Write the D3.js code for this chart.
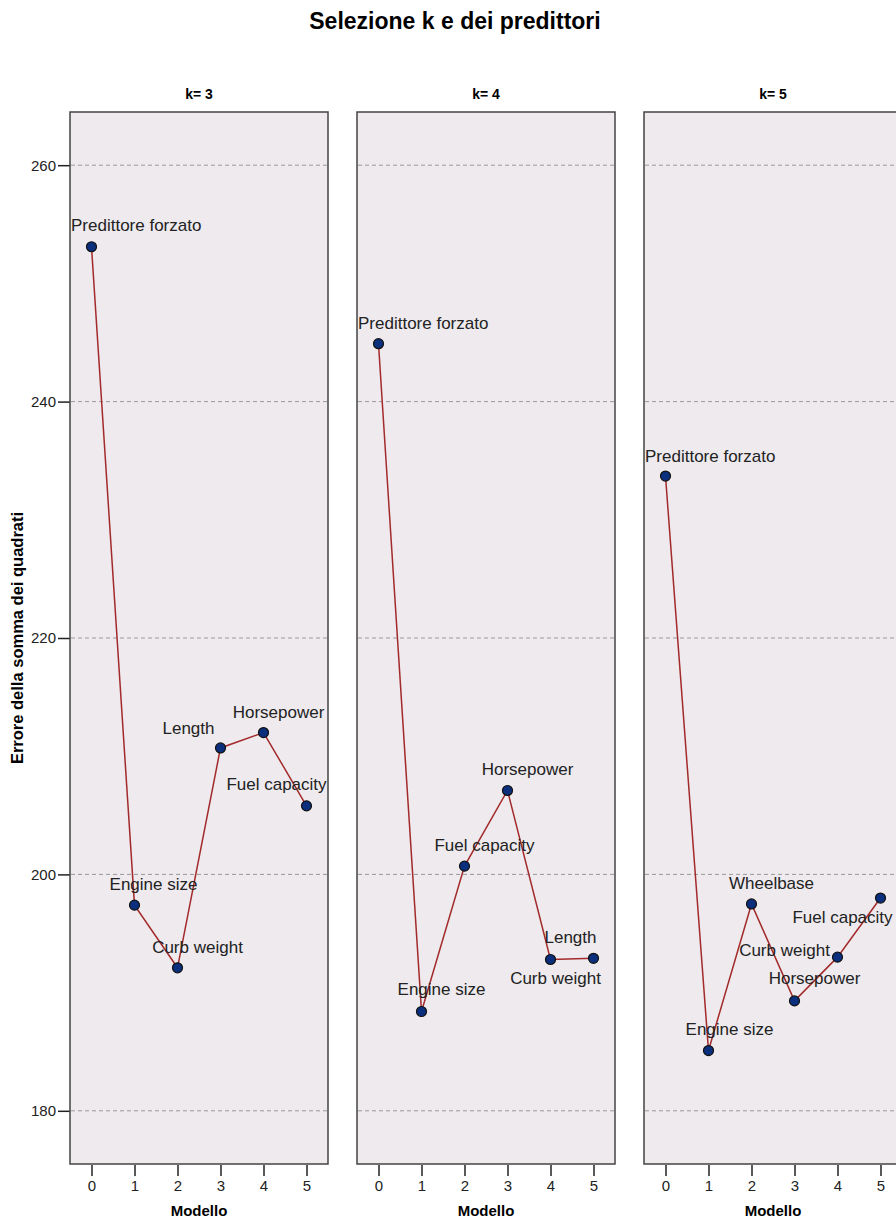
<!DOCTYPE html>
<html>
<head>
<meta charset="utf-8">
<script src="https://cdn.jsdelivr.net/npm/d3@7"></script>
<style>
  body { margin: 0; background: #fff; }
  svg text { font-family: "Liberation Sans", Arial, sans-serif; }
</style>
</head>
<body>
<div id="chart"></div>
<script>
// data
var panels = ["k= 3", "k= 4", "k= 5"];
var models = [0, 1, 2, 3, 4, 5];
var yTicks = [180, 200, 220, 240, 260];
var errK3 = [253.1, 197.4, 192.1, 210.7, 212.0, 205.8];
var errK4 = [244.9, 188.4, 200.7, 207.1, 192.8, 192.9];
var errK5 = [233.7, 185.1, 197.5, 189.3, 193.0, 198.0];
var namesK3 = ["Predittore forzato", "Engine size", "Curb weight", "Length", "Horsepower", "Fuel capacity"];
var namesK4 = ["Predittore forzato", "Engine size", "Fuel capacity", "Horsepower", "Length", "Curb weight"];
var namesK5 = ["Predittore forzato", "Engine size", "Wheelbase", "Horsepower", "Curb weight", "Fuel capacity"];

// label nudges (layout only), [dx, dy] from the point
var nudges = [
    [[0, -22], [19, -21], [20, -21], [-32, -20], [15, -21], [-30, -22]],
    [[0, -21], [20, -22], [20, -21], [20, -21], [20, -22], [-38, 20]],
    [[0, -20], [21, -21], [20, -21], [20, -23], [-53, -7], [-38, 19]]
];

var errs = [errK3, errK4, errK5];
var names = [namesK3, namesK4, namesK5];

var W = 896, H = 1220;
var plotTop = 112, plotBottom = 1164, left0 = 70, pw = 258, gap = 29;

var svg = d3.select("#chart")
    .append("svg")
    .attr("width", W)
    .attr("height", H);

// title
svg.append("text")
    .attr("x", 455)
    .attr("y", 29)
    .attr("text-anchor", "middle")
    .style("font-size", "23px")
    .style("font-weight", "bold")
    .text("Selezione k e dei predittori");

// y axis title
svg.append("text")
    .attr("transform", "translate(23," + ((plotTop + plotBottom) / 2) + ")rotate(-90)")
    .attr("text-anchor", "middle")
    .style("font-size", "16.5px")
    .style("font-weight", "bold")
    .text("Errore della somma dei quadrati");

var y = d3.scaleLinear()
    .domain([175.5, 264.5])
    .range([plotBottom, plotTop]);

// y axis on the first panel only
var yAxis = svg.append("g")
    .attr("transform", "translate(" + left0 + ",0)")
    .call(d3.axisLeft(y).tickValues(yTicks).tickFormat(d3.format("d"))
        .tickSize(12).tickSizeOuter(0).tickPadding(2));
yAxis.select(".domain").remove();
yAxis.selectAll("line").attr("stroke", "#222").attr("stroke-width", 1.5);
yAxis.selectAll("text").style("font-size", "15px").attr("fill", "#222")
    .style("font-family", "'Liberation Sans', Arial, sans-serif");

panels.forEach(function (p, i) {
    var x0 = left0 + i * (pw + gap);
    var x = d3.scaleLinear()
        .domain([-0.5, 5.5])
        .range([x0, x0 + pw]);

    var g = svg.append("g");

    // header
    g.append("text")
        .attr("x", x0 + pw / 2)
        .attr("y", 99)
        .attr("text-anchor", "middle")
        .style("font-size", "14px")
        .style("font-weight", "bold")
        .text(p);

    var clipId = "clip" + i;
    svg.append("clipPath").attr("id", clipId)
        .append("rect")
        .attr("x", x0).attr("y", plotTop)
        .attr("width", pw).attr("height", plotBottom - plotTop);

    g.append("rect")
        .attr("x", x0).attr("y", plotTop)
        .attr("width", pw).attr("height", plotBottom - plotTop)
        .attr("fill", "#eeeaee");

    // grid
    g.selectAll(".grid")
        .data(yTicks)
        .enter()
        .append("line")
        .attr("x1", x0 + 1).attr("x2", x0 + pw - 1)
        .attr("y1", function (d) { return y(d); })
        .attr("y2", function (d) { return y(d); })
        .attr("stroke", "#9a9a9a")
        .attr("stroke-width", 1)
        .attr("stroke-dasharray", "4,3");

    var inner = g.append("g").attr("clip-path", "url(#" + clipId + ")");

    var pts = models.map(function (m, j) { return { m: m, v: errs[i][j], name: names[i][j], n: nudges[i][j] }; });

    inner.append("path")
        .datum(pts)
        .attr("fill", "none")
        .attr("stroke", "#a32a2a")
        .attr("stroke-width", 1.5)
        .attr("d", d3.line()
            .x(function (d) { return x(d.m); })
            .y(function (d) { return y(d.v); }));

    inner.selectAll(".pt")
        .data(pts)
        .enter()
        .append("circle")
        .attr("cx", function (d) { return x(d.m); })
        .attr("cy", function (d) { return y(d.v); })
        .attr("r", 5)
        .attr("fill", "#0b2f7d")
        .attr("stroke", "#111")
        .attr("stroke-width", 1.2);

    inner.selectAll(".lbl")
        .data(pts)
        .enter()
        .append("text")
        .attr("x", function (d) { return x(d.m) + d.n[0]; })
        .attr("y", function (d) { return y(d.v) + d.n[1]; })
        .attr("dy", "0.35em")
        .attr("text-anchor", "middle")
        .attr("fill", "#222")
        .style("font-size", "17px")
        .text(function (d) { return d.name; })
        .each(function () {
            // keep labels inside the panel's left edge
            var bb = this.getBBox();
            if (bb.x < x0 + 1) {
                d3.select(this).attr("x", +d3.select(this).attr("x") + (x0 + 1 - bb.x));
            }
        });

    // border
    g.append("rect")
        .attr("x", x0).attr("y", plotTop)
        .attr("width", pw).attr("height", plotBottom - plotTop)
        .attr("fill", "none")
        .attr("stroke", "#444")
        .attr("stroke-width", 1.5);

    // x axis
    var xAxis = g.append("g")
        .attr("transform", "translate(0," + (plotBottom + 1) + ")")
        .call(d3.axisBottom(x).tickValues(models).tickFormat(d3.format("d"))
            .tickSize(11).tickSizeOuter(0).tickPadding(4));
    xAxis.select(".domain").remove();
    xAxis.selectAll("line").attr("stroke", "#222").attr("stroke-width", 1.5);
    xAxis.selectAll("text").style("font-size", "15px").attr("fill", "#222")
        .style("font-family", "'Liberation Sans', Arial, sans-serif");

    g.append("text")
        .attr("x", x0 + pw / 2)
        .attr("y", 1216)
        .attr("text-anchor", "middle")
        .style("font-size", "15px")
        .style("font-weight", "bold")
        .text("Modello");
});
</script>
</body>
</html>
